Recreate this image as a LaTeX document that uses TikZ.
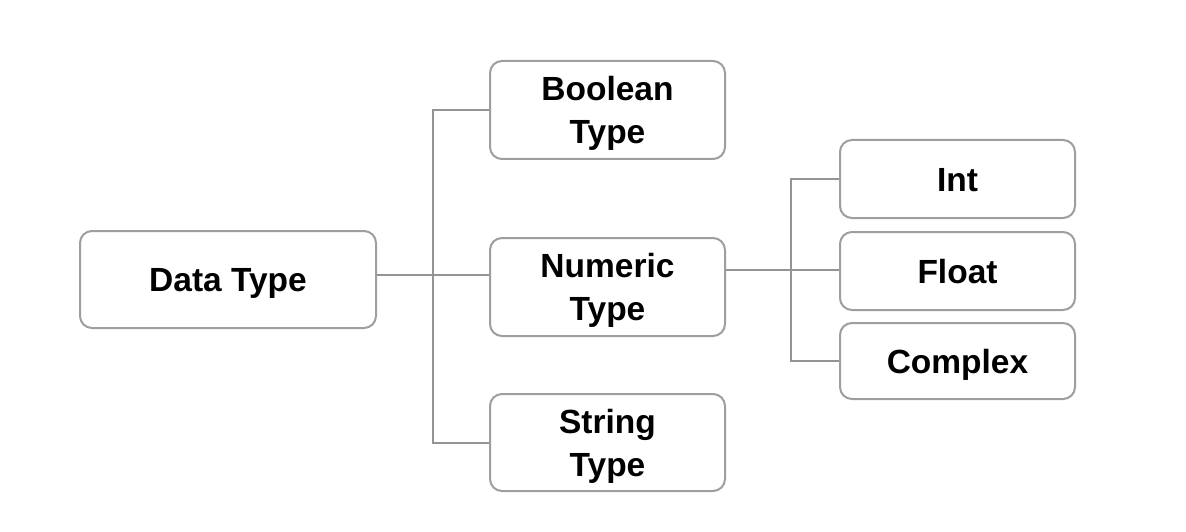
\documentclass[tikz,border=0pt]{standalone}
\usepackage{fontspec}
\setmainfont{Liberation Sans}
\begin{document}
\begin{tikzpicture}[x=1pt,y=-1pt,
  box/.style={draw=black!38, line width=2pt, rounded corners=12pt, fill=white,
    inner sep=0pt, align=center, text=black, text depth=0pt,
    font=\fontsize{33.5}{43}\selectfont\bfseries},
  oneline/.style={text height=24pt},
  link/.style={draw=black!42, line width=2pt}]
  \useasboundingbox (0,0) rectangle (1186,532);
  % nodes
  \node[box, oneline, minimum width=296pt, minimum height=97pt] (dt) at (228,279.5) {Data Type};
  \node[box, minimum width=235pt, minimum height=98pt] (bool) at (607.5,110) {Boolean\\Type};
  \node[box, minimum width=235pt, minimum height=98pt] (num) at (607.5,287) {Numeric\\Type};
  \node[box, minimum width=235pt, minimum height=97pt] (str) at (607.5,442.5) {String\\Type};
  \node[box, oneline, minimum width=235pt, minimum height=78pt] (int) at (957.5,179) {Int};
  \node[box, oneline, minimum width=235pt, minimum height=78pt] (flt) at (957.5,271) {Float};
  \node[box, oneline, minimum width=235pt, minimum height=76pt] (cpx) at (957.5,361) {Complex};
  % junction points
  \coordinate (j1) at (433,275);
  \coordinate (j2) at (791,270);
  % connectors
  \draw[link] (dt.east |- j1) -- (num.west |- j1);
  \draw[link] (bool.west) -| (j1) |- (str.west);
  \draw[link] (num.east |- j2) -- (flt.west |- j2);
  \draw[link] (int.west) -| (j2) |- (cpx.west);
\end{tikzpicture}
\end{document}
